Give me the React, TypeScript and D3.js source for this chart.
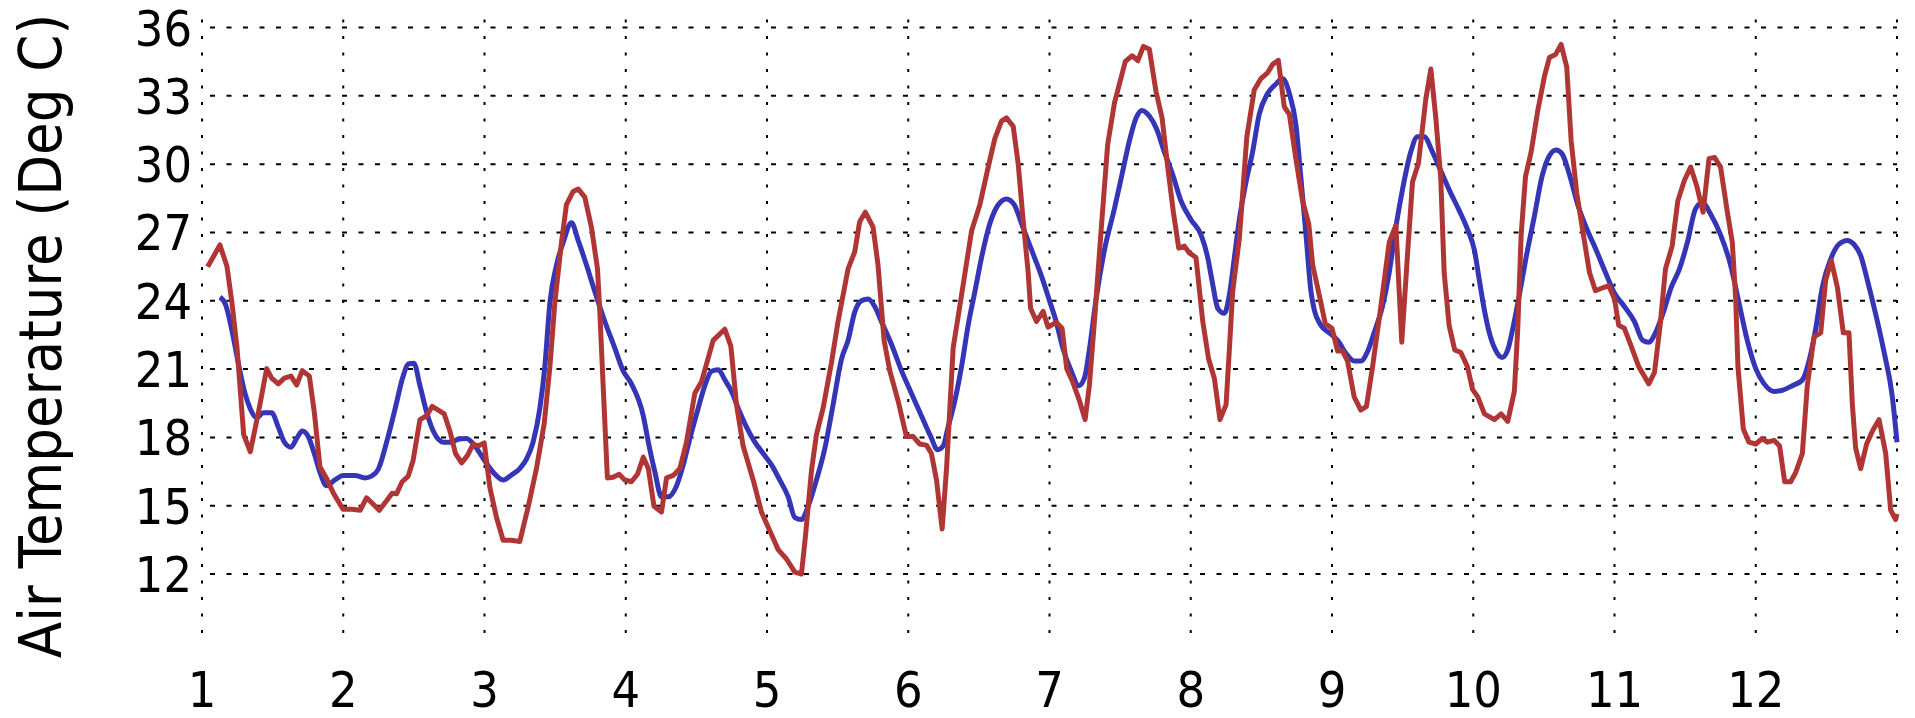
import React from "react";
import * as d3 from "d3";

// ---- data ----
const xTicks = [1, 2, 3, 4, 5, 6, 7, 8, 9, 10, 11, 12];
const yTicks = [12, 15, 18, 21, 24, 27, 30, 33, 36];
const yAxisTitle = "Air Temperature (Deg C)";

// red series (jagged)
const redDay = [
  1.04, 1.127, 1.177, 1.212, 1.248, 1.295, 1.342, 1.4, 1.458, 1.493, 1.54, 1.583, 1.63, 1.67, 1.71, 1.76, 1.795, 1.835, 1.88, 1.93,
  1.999, 2.06, 2.12, 2.165, 2.2, 2.255, 2.307, 2.346, 2.377, 2.417, 2.46, 2.495, 2.543, 2.59, 2.63, 2.715, 2.755, 2.795, 2.838, 2.88,
  2.92, 2.956, 2.998, 3.038, 3.085, 3.132, 3.19, 3.25, 3.31, 3.368, 3.423, 3.463, 3.498, 3.545, 3.58, 3.628, 3.663, 3.71, 3.757, 3.8,
  3.816, 3.84, 3.87, 3.91, 3.953, 3.993, 4.04, 4.083, 4.124, 4.16, 4.2, 4.253, 4.289, 4.336, 4.383, 4.43, 4.489, 4.536, 4.619, 4.701,
  4.744, 4.784, 4.831, 4.902, 4.961, 5.008, 5.079, 5.138, 5.197, 5.244, 5.272, 5.315, 5.35, 5.397, 5.456, 5.503, 5.574, 5.621, 5.656, 5.696,
  5.751, 5.786, 5.829, 5.869, 5.928, 5.987, 6.034, 6.081, 6.129, 6.164, 6.2, 6.24, 6.271, 6.318, 6.377, 6.448, 6.507, 6.566, 6.613, 6.66,
  6.695, 6.743, 6.778, 6.813, 6.849, 6.866, 6.908, 6.955, 6.99, 7.047, 7.089, 7.122, 7.164, 7.212, 7.252, 7.282, 7.318, 7.365, 7.412, 7.46,
  7.537, 7.585, 7.625, 7.665, 7.707, 7.754, 7.797, 7.837, 7.877, 7.915, 7.955, 7.99, 8.037, 8.085, 8.127, 8.167, 8.207, 8.25, 8.274, 8.297,
  8.344, 8.397, 8.45, 8.497, 8.544, 8.58, 8.62, 8.662, 8.698, 8.745, 8.792, 8.835, 8.863, 8.91, 8.952, 9.0, 9.04, 9.075, 9.11, 9.157,
  9.204, 9.244, 9.287, 9.346, 9.405, 9.452, 9.494, 9.535, 9.57, 9.612, 9.664, 9.7, 9.735, 9.77, 9.794, 9.829, 9.869, 9.912, 9.959, 9.995,
  10.032, 10.079, 10.15, 10.197, 10.244, 10.291, 10.315, 10.339, 10.37, 10.41, 10.457, 10.504, 10.539, 10.582, 10.622, 10.662, 10.693, 10.733, 10.78, 10.823,
  10.865, 10.917, 10.96, 11.0, 11.03, 11.07, 11.118, 11.172, 11.243, 11.283, 11.323, 11.361, 11.408, 11.448, 11.495, 11.539, 11.582, 11.627, 11.669, 11.709,
  11.751, 11.799, 11.834, 11.858, 11.874, 11.912, 11.952, 12.0, 12.046, 12.082, 12.129, 12.169, 12.205, 12.247, 12.283, 12.33, 12.365, 12.413, 12.46, 12.495,
  12.535, 12.578, 12.62, 12.66, 12.684, 12.707, 12.743, 12.785, 12.826, 12.873, 12.92, 12.955, 12.99, 13.0,
];
const redTemp = [
  25.49, 26.45, 25.5, 23.91, 21.93, 18.12, 17.37, 19.11, 21.02, 20.6, 20.35, 20.6, 20.69, 20.3, 20.93, 20.69, 19.11, 16.71, 16.22, 15.55,
  14.84, 14.84, 14.8, 15.34, 15.14, 14.8, 15.22, 15.55, 15.52, 16.05, 16.3, 17.0, 18.78, 18.95, 19.36, 19.03, 18.28, 17.29, 16.88, 17.21,
  17.7, 17.62, 17.76, 15.8, 14.48, 13.48, 13.48, 13.43, 14.97, 16.63, 18.62, 21.1, 23.91, 26.56, 28.22, 28.8, 28.91, 28.55, 27.23, 25.4,
  23.58, 20.27, 16.22, 16.25, 16.38, 16.13, 16.05, 16.38, 17.13, 16.63, 14.97, 14.72, 16.22, 16.33, 16.63, 17.79, 19.94, 20.44, 22.26, 22.75,
  22.01, 19.44, 17.62, 16.13, 14.72, 14.06, 13.07, 12.66, 12.08, 12.0, 13.65, 16.55, 18.12, 19.28, 21.27, 23.09, 25.4, 26.15, 27.47, 27.89,
  27.23, 25.57, 22.26, 20.93, 19.61, 18.04, 18.04, 17.71, 17.66, 17.29, 16.13, 13.98, 16.63, 21.93, 24.24, 27.06, 28.22, 29.87, 31.12, 31.89,
  32.03, 31.66, 30.04, 27.56, 25.24, 23.67, 23.09, 23.53, 22.84, 23.05, 22.79, 21.02, 20.44, 19.61, 18.78, 20.27, 23.09, 27.06, 30.87, 32.69,
  34.51, 34.76, 34.54, 35.17, 35.04, 33.19, 32.03, 29.87, 27.89, 26.31, 26.4, 26.1, 25.9, 23.09, 21.43, 20.6, 18.78, 19.44, 21.93, 24.41,
  26.73, 31.2, 33.27, 33.76, 34.01, 34.38, 34.56, 32.52, 32.19, 30.21, 28.38, 27.39, 25.57, 24.24, 23.0, 22.79, 21.79, 21.79, 21.35, 19.78,
  19.2, 19.36, 21.1, 23.75, 26.56, 27.31, 22.18, 26.07, 29.21, 30.04, 32.85, 34.18, 32.03, 29.38, 25.24, 22.92, 21.84, 21.73, 21.1, 20.11,
  19.78, 19.03, 18.78, 19.03, 18.7, 20.02, 22.75, 26.89, 29.46, 30.54, 32.36, 33.85, 34.68, 34.81, 35.26, 34.26, 31.03, 28.72, 26.89, 25.24,
  24.44, 24.57, 24.66, 24.08, 22.92, 22.79, 22.01, 21.1, 20.35, 20.85, 22.92, 25.4, 26.4, 28.38, 29.29, 29.87, 29.05, 27.89, 30.24, 30.29,
  29.87, 27.89, 26.56, 24.08, 21.1, 18.37, 17.79, 17.71, 17.95, 17.79, 17.87, 17.62, 16.05, 16.05, 16.46, 17.29, 20.27, 22.42, 22.59, 24.91,
  25.77, 24.58, 22.59, 22.59, 19.44, 17.54, 16.63, 17.71, 18.28, 18.78, 17.29, 14.81, 14.39, 14.64,
];

// blue series (smooth)
const blueDay = [
  1.127, 1.167, 1.21, 1.257, 1.304, 1.34, 1.387, 1.434, 1.493, 1.54, 1.583, 1.63, 1.67, 1.71, 1.752, 1.795, 1.835, 1.882, 1.941, 2.0,
  2.083, 2.153, 2.2, 2.248, 2.307, 2.365, 2.424, 2.46, 2.5, 2.543, 2.59, 2.637, 2.708, 2.767, 2.814, 2.873, 2.932, 3.003, 3.062, 3.132,
  3.191, 3.25, 3.297, 3.344, 3.392, 3.427, 3.463, 3.51, 3.557, 3.616, 3.663, 3.722, 3.781, 3.852, 3.922, 3.981, 4.04, 4.124, 4.16, 4.207,
  4.253, 4.3, 4.36, 4.407, 4.454, 4.513, 4.56, 4.607, 4.655, 4.702, 4.749, 4.801, 4.855, 4.914, 4.973, 5.032, 5.09, 5.15, 5.197, 5.244,
  5.291, 5.35, 5.409, 5.468, 5.527, 5.574, 5.621, 5.668, 5.716, 5.763, 5.81, 5.881, 5.952, 6.022, 6.093, 6.159, 6.207, 6.247, 6.282, 6.33,
  6.377, 6.424, 6.472, 6.519, 6.578, 6.637, 6.696, 6.75, 6.802, 6.873, 6.944, 7.0, 7.047, 7.094, 7.153, 7.207, 7.247, 7.282, 7.33, 7.389,
  7.46, 7.519, 7.566, 7.613, 7.655, 7.707, 7.759, 7.813, 7.872, 7.931, 8.002, 8.073, 8.12, 8.155, 8.191, 8.238, 8.273, 8.309, 8.344, 8.391,
  8.438, 8.485, 8.544, 8.603, 8.65, 8.698, 8.745, 8.78, 8.816, 8.851, 8.875, 8.922, 8.981, 9.04, 9.1, 9.157, 9.204, 9.251, 9.298, 9.357,
  9.405, 9.452, 9.499, 9.558, 9.605, 9.652, 9.711, 9.77, 9.829, 9.9, 9.959, 10.008, 10.043, 10.079, 10.114, 10.157, 10.204, 10.244, 10.279, 10.326,
  10.374, 10.433, 10.487, 10.539, 10.587, 10.629, 10.681, 10.74, 10.799, 10.87, 10.936, 11.0, 11.07, 11.141, 11.2, 11.243, 11.29, 11.342, 11.401, 11.46,
  11.516, 11.575, 11.622, 11.681, 11.751, 11.822, 11.881, 11.94, 12.0, 12.058, 12.129, 12.188, 12.259, 12.33, 12.377, 12.424, 12.471, 12.53, 12.589, 12.648,
  12.695, 12.743, 12.79, 12.849, 12.908, 12.967, 13.0,
];
const blueTemp = [
  24.16, 23.83, 22.75, 21.27, 19.94, 19.28, 18.86, 19.08, 19.08, 18.45, 17.79, 17.57, 17.95, 18.28, 18.04, 17.29, 16.46, 15.88, 16.13, 16.33,
  16.33, 16.22, 16.3, 16.6, 17.79, 19.2, 20.69, 21.23, 21.26, 20.27, 19.11, 18.28, 17.79, 17.79, 17.92, 17.95, 17.62, 16.96, 16.46, 16.13,
  16.35, 16.63, 17.04, 17.79, 19.28, 21.1, 23.91, 25.57, 26.56, 27.42, 26.65, 25.57, 24.41, 23.09, 21.93, 20.93, 20.35, 18.95, 17.79, 16.46,
  15.39, 15.39, 15.88, 16.79, 17.95, 19.28, 20.27, 20.9, 20.97, 20.52, 20.02, 19.2, 18.45, 17.79, 17.29, 16.79, 16.13, 15.39, 14.48, 14.39,
  14.97, 16.13, 17.5, 19.44, 21.43, 22.26, 23.5, 24.0, 24.08, 23.75, 23.09, 22.09, 20.93, 19.94, 18.95, 18.04, 17.46, 17.62, 18.45, 19.61,
  21.1, 22.92, 24.41, 25.9, 27.39, 28.22, 28.47, 28.22, 27.39, 26.23, 25.07, 24.0, 23.09, 21.93, 20.93, 20.27, 20.6, 21.84, 24.08, 26.23,
  28.05, 29.71, 31.03, 32.03, 32.36, 32.11, 31.53, 30.54, 29.54, 28.38, 27.56, 26.89, 25.9, 24.74, 23.67, 23.45, 24.24, 25.9, 27.56, 29.2,
  30.54, 32.19, 33.1, 33.52, 33.76, 33.1, 31.7, 29.38, 26.89, 24.41, 23.58, 22.92, 22.59, 22.26, 21.68, 21.35, 21.35, 21.76, 22.59, 23.75,
  25.24, 27.23, 28.88, 30.54, 31.2, 31.2, 30.54, 29.71, 28.88, 27.97, 27.14, 26.23, 24.91, 23.58, 22.59, 21.84, 21.51, 21.84, 22.75, 24.24,
  25.9, 27.72, 29.46, 30.37, 30.62, 30.45, 29.54, 28.22, 27.23, 26.23, 25.24, 24.33, 23.75, 23.09, 22.26, 22.18, 22.59, 23.42, 24.58, 25.4,
  26.56, 28.05, 28.3, 27.8, 26.89, 25.57, 23.91, 22.26, 21.02, 20.36, 20.02, 20.07, 20.27, 20.52, 21.35, 22.75, 24.58, 25.82, 26.48, 26.65,
  26.48, 25.98, 24.91, 23.42, 21.76, 19.78, 17.79,
];

const W = 1915;
const H = 718;
const FONT = "'DejaVu Sans Condensed', 'DejaVu Sans', sans-serif";

export default function App() {
  const x = d3.scaleLinear().domain([1, 13]).range([202, 1897]);
  const y = d3.scaleLinear().domain([12, 36]).range([574, 27.5]);
  const gridTop = y(36.35);
  const gridBottom = y(9.2);

  const red = redDay.map((d, i) => [d, redTemp[i]] as [number, number]);
  const blue = blueDay.map((d, i) => [d, blueTemp[i]] as [number, number]);

  const line = d3
    .line<[number, number]>()
    .x((d) => x(d[0]))
    .y((d) => y(d[1]))
    .curve(d3.curveLinear);
  const smooth = d3
    .line<[number, number]>()
    .x((d) => x(d[0]))
    .y((d) => y(d[1]))
    .curve(d3.curveMonotoneX);

  const vLines = [...xTicks, 13];

  return (
    <svg
      width={W}
      height={H}
      style={{ position: "absolute", left: 0, top: 0, background: "#fff" }}
      fontFamily={FONT}
    >
      {/* horizontal grid */}
      {yTicks.map((t) => (
        <line
          key={"h" + t}
          x1={x(1)}
          x2={x(13)}
          y1={y(t)}
          y2={y(t)}
          stroke="#000"
          strokeWidth={2}
          strokeDasharray="5 11.5"
          strokeDashoffset={-8}
        />
      ))}
      {/* vertical grid */}
      {vLines.map((t) => (
        <line
          key={"v" + t}
          x1={x(t)}
          x2={x(t)}
          y1={gridTop}
          y2={gridBottom}
          stroke="#000"
          strokeWidth={2}
          strokeDasharray="3 13.5"
        />
      ))}
      {/* series */}
      <path d={smooth(blue) || ""} fill="none" stroke="#3535b6" strokeWidth={5} strokeLinejoin="round" />
      <path d={line(red) || ""} fill="none" stroke="#b03636" strokeWidth={5} strokeLinejoin="round" />
      {/* y tick labels */}
      {yTicks.map((t) => (
        <text
          key={"yl" + t}
          x={192}
          y={y(t)}
          dy="0.36em"
          textAnchor="end"
          fontSize={50}
          fontStretch="condensed"
          fill="#000"
        >
          {t}
        </text>
      ))}
      {/* x tick labels */}
      {xTicks.map((t) => (
        <text
          key={"xl" + t}
          x={x(t)}
          y={707}
          textAnchor="middle"
          fontSize={50}
          fontStretch="condensed"
          fill="#000"
        >
          {t}
        </text>
      ))}
      {/* y axis title */}
      <text
        transform={`translate(61, ${336}) rotate(-90)`}
        textAnchor="middle"
        fontSize={59}
        fontStretch="condensed"
        fill="#000"
      >
        {yAxisTitle}
      </text>
    </svg>
  );
}
